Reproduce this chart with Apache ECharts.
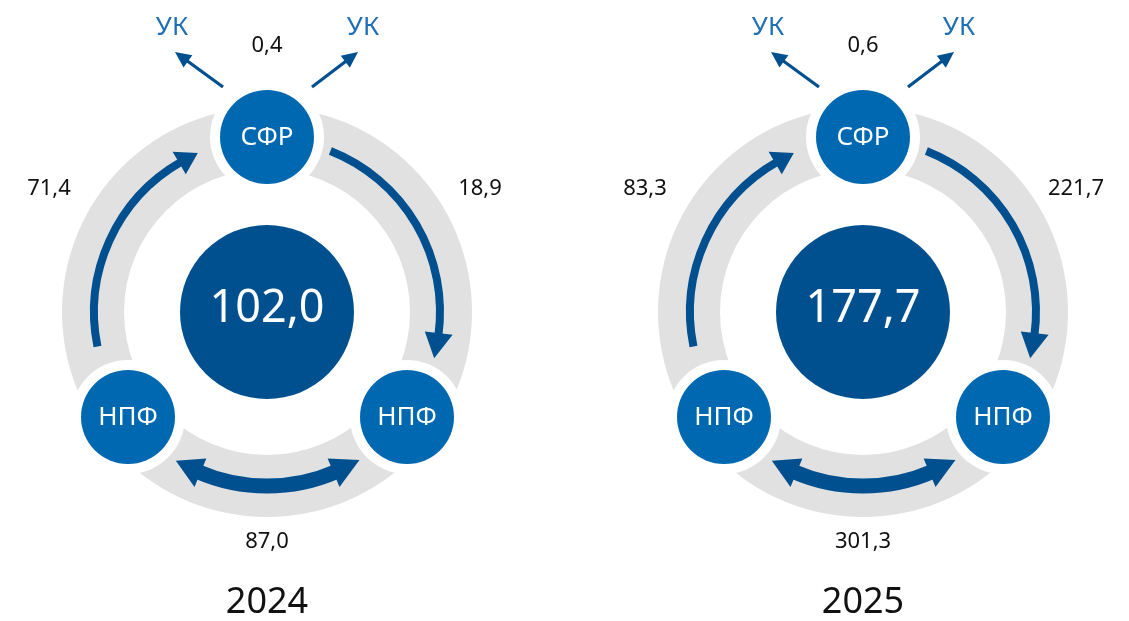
<!DOCTYPE html>
<html>
<head>
<meta charset="utf-8">
<script src="https://cdn.jsdelivr.net/npm/echarts@6/dist/echarts.min.js"></script>
<style>
  html, body { margin: 0; padding: 0; background: #ffffff; }
  #chart { width: 1129px; height: 621px; }
</style>
</head>
<body>
<div id="chart"></div>
<script>
// данные
var years = ["2024", "2025"];
var totals = [102.0, 177.7];
var sfrToUk = [0.4, 0.6];
var npfToSfr = [71.4, 83.3];
var sfrToNpf = [18.9, 221.7];
var npfToNpf = [87.0, 301.3];
var nodeLabels = ["СФР", "НПФ", "НПФ"];
var ukLabel = "УК";

// оформление
var centers = [267, 863];
var R_IN = 143, R_OUT = 205, R_MID = 173;
var NODE_R = 47, HALO_R = 57, CORE_R = 87;
var DARK = "#00508f", NODE = "#0068b1", RING = "#e1e1e1", UK = "#1f6fb6";
var FONT = "Noto Sans";

function fmt(v) {
  return v.toFixed(1).replace(".", ",");
}

function polar(r, deg) {
  var a = deg * Math.PI / 180;
  return [r * Math.cos(a), r * Math.sin(a)];
}

function makeRender(i) {
  return function(params, api) {
    // экранные смещения от центра -> пиксели через оси
    var p = function(d) {
      return api.coord([d[0], -d[1]]);
    };
    var c = p([0, 0]);
    var k = api.size([1, 1])[0];
    var children = [];

    children.push({
      type: "ring",
      shape: { cx: c[0], cy: c[1], r: R_OUT * k, r0: R_IN * k },
      style: { fill: RING }
    });

    var nodes = [[0, -175], [140, 105], [-139, 105]];
    nodes.forEach(function(n) {
      var q = p(n);
      children.push({
        type: "circle",
        shape: { cx: q[0], cy: q[1], r: HALO_R * k },
        style: { fill: "#ffffff" }
      });
    });

    function arcArrow(r, from, to, width, heads, headW, headL) {
      children.push({
        type: "arc",
        shape: {
          cx: c[0], cy: c[1], r: r * k,
          startAngle: from * Math.PI / 180,
          endAngle: to * Math.PI / 180,
          clockwise: true
        },
        style: { stroke: DARK, lineWidth: width, fill: "none", lineCap: "butt" }
      });
      heads.forEach(function(h) {
        var base = h[0], tip = h[1];
        children.push({
          type: "polygon",
          shape: {
            points: [
              p(polar(r - headW / 2, base)),
              p(polar(r + 0.5, tip)),
              p(polar(r + headW / 2, base))
            ]
          },
          style: { fill: DARK }
        });
      });
    }

    // СФР -> НПФ (справа)
    arcArrow(R_MID, -68.5, 7.8, 8, [[7, 15.5]], 28);
    // НПФ -> СФР (слева)
    arcArrow(R_MID, 168.5, 240.3, 8, [[239.5, 246.5]], 26);
    // НПФ <-> НПФ (снизу)
    arcArrow(R_MID + 1, 66.5, 113.5, 15, [[67.5, 58], [112.5, 121.5]], 31);

    // стрелки к УК
    function lineArrow(a, b) {
      var dx = b[0] - a[0], dy = b[1] - a[1];
      var len = Math.sqrt(dx * dx + dy * dy);
      var ux = dx / len, uy = dy / len;
      var hl = 16, hw = 15;
      var base = [b[0] - ux * hl, b[1] - uy * hl];
      children.push({
        type: "line",
        shape: (function() {
          var s = p(a), e = p([base[0] + ux * 2, base[1] + uy * 2]);
          return { x1: s[0], y1: s[1], x2: e[0], y2: e[1] };
        })(),
        style: { stroke: DARK, lineWidth: 3.2 }
      });
      children.push({
        type: "polygon",
        shape: {
          points: [
            p(b),
            p([base[0] - uy * hw / 2, base[1] + ux * hw / 2]),
            p([base[0] + uy * hw / 2, base[1] - ux * hw / 2])
          ]
        },
        style: { fill: DARK }
      });
    }
    lineArrow([-44, -225], [-92, -260]);
    lineArrow([45, -225], [91, -260]);

    nodes.forEach(function(n, j) {
      var q = p(n);
      children.push({
        type: "circle",
        shape: { cx: q[0], cy: q[1], r: NODE_R * k },
        style: { fill: NODE }
      });
      children.push({
        type: "text",
        style: {
          text: nodeLabels[j], x: q[0], y: q[1] + 1,
          fill: "#ffffff", fontSize: 26, fontFamily: FONT,
          align: "center", verticalAlign: "middle"
        }
      });
    });

    children.push({
      type: "circle",
      shape: { cx: c[0], cy: c[1], r: CORE_R * k },
      style: { fill: DARK }
    });

    function label(text, d, size, color) {
      var q = p(d);
      children.push({
        type: "text",
        style: {
          text: text, x: q[0], y: q[1],
          fill: color || "#111111", fontSize: size, fontFamily: FONT,
          align: "center", verticalAlign: "middle"
        }
      });
    }

    label(fmt(totals[i]), [0, -3], 45, "#ffffff");
    label(ukLabel, [-95, -284], 26, UK);
    label(ukLabel, [96, -284], 26, UK);
    label(fmt(sfrToUk[i]), [0, -266], 22);
    label(fmt(npfToSfr[i]), [-218, -123], 22);
    label(fmt(sfrToNpf[i]), [213, -123], 22);
    label(fmt(npfToNpf[i]), [0, 230], 22);
    label(years[i], [0, 291], 36);

    return { type: "group", children: children };
  };
}

var chart = echarts.init(document.getElementById("chart"));

var option = {
  animation: false,
  backgroundColor: "#ffffff",
  grid: centers.map(function(cx) {
    return { left: cx - 262, top: 12, width: 524, height: 600 };
  }),
  xAxis: centers.map(function(cx, i) {
    return { gridIndex: i, type: "value", min: -262, max: 262, show: false };
  }),
  yAxis: centers.map(function(cx, i) {
    return { gridIndex: i, type: "value", min: -300, max: 300, show: false };
  }),
  series: years.map(function(y, i) {
    return {
      type: "custom",
      name: y,
      xAxisIndex: i,
      yAxisIndex: i,
      clip: false,
      silent: true,
      data: [[0, 0]],
      renderItem: makeRender(i)
    };
  })
};

chart.setOption(option);
</script>
</body>
</html>
